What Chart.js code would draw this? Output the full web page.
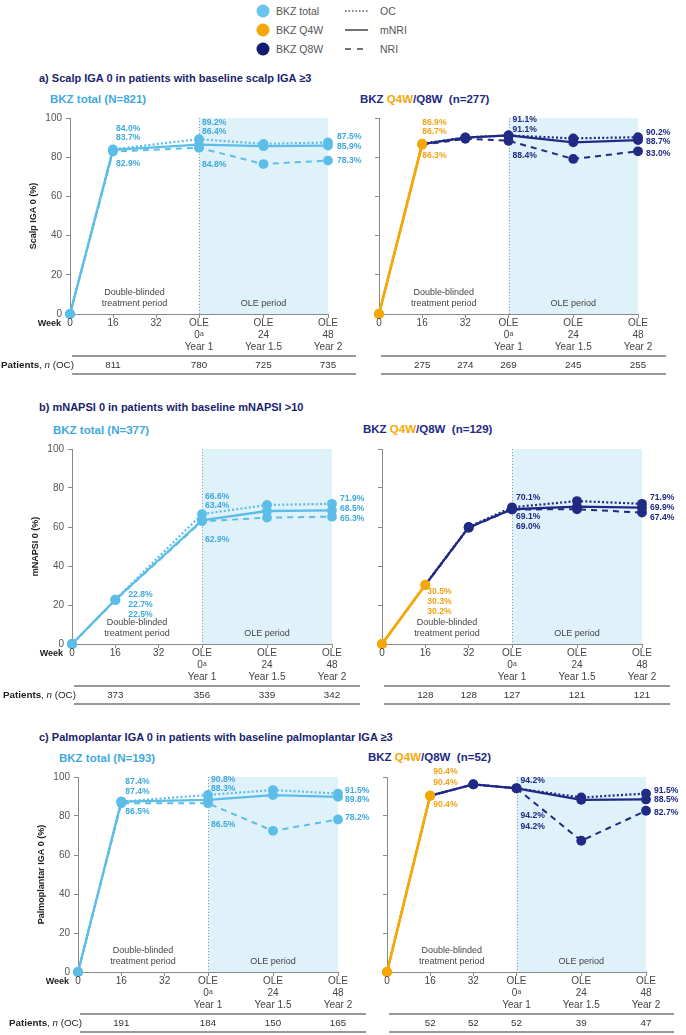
<!DOCTYPE html>
<html><head><meta charset="utf-8">
<script src="https://cdn.jsdelivr.net/npm/chart.js@4"></script>
<style>
body{margin:0;background:#fff;width:686px;height:1035px;position:relative;overflow:hidden;font-family:"Liberation Sans",Arial,sans-serif;}
.abs{position:absolute;white-space:nowrap;line-height:1;}
.title{font-weight:bold;font-size:11px;color:#1b1f6e;transform:translateY(-50%);}
.sub{font-weight:bold;font-size:11.5px;transform:translateY(-50%);}
.lg{font-size:10.5px;color:#555;transform:translateY(-50%);}
canvas{position:absolute;}
</style></head><body>
<svg class="abs" style="left:250px;top:0px" width="130" height="62">
  <circle cx="13" cy="11" r="6.5" fill="#6ac4ec"/>
  <circle cx="13" cy="30" r="6.5" fill="#f5a70a"/>
  <circle cx="13" cy="49" r="6.5" fill="#101b72"/>
  <line x1="95" y1="11" x2="118" y2="11" stroke="#555" stroke-width="1.5" stroke-dasharray="1.5,2"/>
  <line x1="95" y1="30" x2="118" y2="30" stroke="#444" stroke-width="1.5"/>
  <line x1="95" y1="49" x2="118" y2="49" stroke="#444" stroke-width="1.5" stroke-dasharray="6,6"/>
</svg>
<div class="abs lg" style="left:276px;top:11px">BKZ total</div>
<div class="abs lg" style="left:276px;top:30px">BKZ Q4W</div>
<div class="abs lg" style="left:276px;top:49px">BKZ Q8W</div>
<div class="abs lg" style="left:380px;top:11px">OC</div>
<div class="abs lg" style="left:380px;top:30px">mNRI</div>
<div class="abs lg" style="left:380px;top:49px">NRI</div>

<div class="abs title" style="left:39px;top:78px">a) Scalp IGA 0 in patients with baseline scalp IGA ≥3</div>
<div class="abs title" style="left:39px;top:407px">b) mNAPSI 0 in patients with baseline mNAPSI &gt;10</div>
<div class="abs title" style="left:39px;top:737px">c) Palmoplantar IGA 0 in patients with baseline palmoplantar IGA ≥3</div>

<div class="abs sub" style="left:50px;top:100px;color:#3fa9dc">BKZ total (N=821)</div>
<div class="abs sub" style="left:360px;top:100px;color:#1e2a84">BKZ <span style="color:#f5a70a">Q4W</span>/Q8W&nbsp; (n=277)</div>
<div class="abs sub" style="left:53px;top:431px;color:#3fa9dc">BKZ total (N=377)</div>
<div class="abs sub" style="left:363px;top:430px;color:#1e2a84">BKZ <span style="color:#f5a70a">Q4W</span>/Q8W&nbsp; (n=129)</div>
<div class="abs sub" style="left:59px;top:759px;color:#3fa9dc">BKZ total (N=193)</div>
<div class="abs sub" style="left:368px;top:758px;color:#1e2a84">BKZ <span style="color:#f5a70a">Q4W</span>/Q8W&nbsp; (n=52)</div>

<script>
// ---------- DATA ----------
const weeks = [0, 16, 32, 48, 72, 96]; // 48 = OLE 0, 72 = OLE 24, 96 = OLE 48
const xTickLabels = [['0'], ['16'], ['32'], ['OLE', '0ᵃ', 'Year 1'], ['OLE', '24', 'Year 1.5'], ['OLE', '48', 'Year 2']];
const yTicks = [0, 20, 40, 60, 80, 100];

// a) Scalp IGA
const aTotalOC   = [0, 84.0, null, 89.2, 86.8, 87.5];
const aTotalMNRI = [0, 83.7, null, 86.4, 85.6, 85.9];
const aTotalNRI  = [0, 82.9, null, 84.8, 76.5, 78.3];
const aQ4wOC   = [0, 86.9];
const aQ4wMNRI = [0, 86.7];
const aQ4wNRI  = [0, 86.3];
const aQ8wOC   = [null, 86.9, 90.1, 91.1, 89.6, 90.2];
const aQ8wMNRI = [null, 86.7, 90.0, 91.1, 87.6, 88.7];
const aQ8wNRI  = [null, 86.3, 89.4, 88.4, 79.1, 83.0];
const aTotalN = [null, 811, null, 780, 725, 735];
const aDoseN  = [null, 275, 274, 269, 245, 255];

// b) mNAPSI
const bTotalOC   = [0, 22.8, null, 66.6, 71.3, 71.9];
const bTotalMNRI = [0, 22.7, null, 63.4, 68.2, 68.5];
const bTotalNRI  = [0, 22.5, null, 62.9, 64.8, 65.3];
const bQ4wOC   = [0, 30.5];
const bQ4wMNRI = [0, 30.3];
const bQ4wNRI  = [0, 30.2];
const bQ8wOC   = [null, 30.5, 60.0, 70.1, 73.3, 71.9];
const bQ8wMNRI = [null, 30.3, 59.8, 69.1, 70.4, 69.9];
const bQ8wNRI  = [null, 30.2, 59.6, 69.0, 69.1, 67.4];
const bTotalN = [null, 373, null, 356, 339, 342];
const bDoseN  = [null, 128, 128, 127, 121, 121];

// c) Palmoplantar IGA
const cTotalOC   = [0, 87.4, null, 90.8, 93.3, 91.5];
const cTotalMNRI = [0, 87.4, null, 88.3, 90.7, 89.8];
const cTotalNRI  = [0, 86.5, null, 86.5, 72.4, 78.2];
const cQ4wOC   = [0, 90.4];
const cQ4wMNRI = [0, 90.4];
const cQ4wNRI  = [0, 90.4];
const cQ8wOC   = [null, 90.4, 96.2, 94.2, 89.5, 91.5];
const cQ8wMNRI = [null, 90.4, 96.2, 94.2, 88.3, 88.5];
const cQ8wNRI  = [null, 90.4, 96.2, 94.2, 67.3, 82.7];
const cTotalN = [null, 191, null, 184, 150, 165];
const cDoseN  = [null, 52, 52, 52, 39, 47];

// ---------- STYLE ----------
const FONT = '"Liberation Sans", Arial, sans-serif';
const BLUE = '#5cbde8', BLUE_T = '#3fa9dc', ORANGE = '#f5a70a', ORANGE_T = '#f0a318', NAVY = '#1e2a84';
const AX = '#8a8a8a', SHADE = '#dff1f9';
const STY = {
  oc:   {dash: [2, 2.2], w: 2.2},
  mnri: {dash: [], w: 2.3},
  nri:  {dash: [6, 5], w: 2}
};

function pts(arr) {
  const out = [];
  arr.forEach((v, i) => { if (v !== null) out.push({x: weeks[i], y: v}); });
  return out;
}
function ds(arr, color, st, hideFirst) {
  return {
    data: pts(arr), borderColor: color, backgroundColor: color,
    borderWidth: STY[st].w, borderDash: STY[st].dash, tension: 0, clip: false,
    pointRadius: hideFirst ? (c => c.raw && c.raw.x === 16 ? 0 : 4.9) : 4.9,
    pointBorderWidth: 0, pointBackgroundColor: color, pointHoverRadius: 0
  };
}
// label: text taken from series value
function L(arr, i, dx, dy, color) { return {arr, i, dx, dy, color}; }

const panels = [
  {left: true, area: [70, 328, 118, 314], ytitle: 'Scalp IGA 0 (%)', n: aTotalN,
   total: [aTotalOC, aTotalMNRI, aTotalNRI],
   labels: [L(aTotalOC,1,3,-21), L(aTotalMNRI,1,3,-12), L(aTotalNRI,1,3,12.5),
            L(aTotalOC,3,3,-17), L(aTotalMNRI,3,3,-12.7), L(aTotalNRI,3,3,17),
            L(aTotalOC,5,9,-5.5), L(aTotalMNRI,5,9,1.4), L(aTotalNRI,5,9,0.5)]},
  {left: false, area: [379, 638, 118, 314], n: aDoseN,
   q4: [aQ4wOC, aQ4wMNRI, aQ4wNRI], q8: [aQ8wOC, aQ8wMNRI, aQ8wNRI],
   labels: [L(aQ4wOC,1,0,-21,ORANGE_T), L(aQ4wMNRI,1,0,-12,ORANGE_T), L(aQ4wNRI,1,0,11,ORANGE_T),
            L(aQ8wOC,3,4,-16), L(aQ8wMNRI,3,4,-5.4), L(aQ8wNRI,3,4,15),
            L(aQ8wOC,5,8,-4.5), L(aQ8wMNRI,5,8,1.6), L(aQ8wNRI,5,8,2)]},
  {left: true, area: [72, 332, 449, 644], ytitle: 'mNAPSI 0 (%)', n: bTotalN,
   total: [bTotalOC, bTotalMNRI, bTotalNRI],
   labels: [L(bTotalOC,1,13,-4.5), L(bTotalMNRI,1,13,4.6), L(bTotalNRI,1,13,14.2),
            L(bTotalOC,3,3,-18), L(bTotalMNRI,3,3,-14.7), L(bTotalNRI,3,3,18),
            L(bTotalOC,5,8,-5.5), L(bTotalMNRI,5,8,-2), L(bTotalNRI,5,8,1.6)]},
  {left: false, area: [382, 642, 449, 644], n: bDoseN,
   q4: [bQ4wOC, bQ4wMNRI, bQ4wNRI], q8: [bQ8wOC, bQ8wMNRI, bQ8wNRI],
   labels: [L(bQ4wOC,1,2,7,ORANGE_T), L(bQ4wMNRI,1,2,17,ORANGE_T), L(bQ4wNRI,1,2,27,ORANGE_T),
            L(bQ8wOC,3,4,-9.6), L(bQ8wMNRI,3,4,7.4), L(bQ8wNRI,3,4,17.5),
            L(bQ8wOC,5,8,-6.5), L(bQ8wMNRI,5,8,-0.4), L(bQ8wNRI,5,8,4.7)]},
  {left: true, area: [78, 338, 777, 972], ytitle: 'Palmoplantar IGA 0 (%)', n: cTotalN,
   total: [cTotalOC, cTotalMNRI, cTotalNRI],
   labels: [L(cTotalOC,1,4,-20), L(cTotalMNRI,1,4,-10.3), L(cTotalNRI,1,4,8),
            L(cTotalOC,3,3,-15.6), L(cTotalMNRI,3,3,-11.5), L(cTotalNRI,3,3,21),
            L(cTotalOC,5,7,-3), L(cTotalMNRI,5,7,3), L(cTotalNRI,5,7,-2)]},
  {left: false, area: [387, 646, 777, 972], n: cDoseN,
   q4: [cQ4wOC, cQ4wMNRI, cQ4wNRI], q8: [cQ8wOC, cQ8wMNRI, cQ8wNRI],
   labels: [L(cQ4wOC,1,3,-24,ORANGE_T), L(cQ4wMNRI,1,3,-13.4,ORANGE_T), L(cQ4wNRI,1,3,9.3,ORANGE_T),
            L(cQ8wOC,3,4,-7.6), L(cQ8wMNRI,3,4,27.4), L(cQ8wNRI,3,4,38.4),
            L(cQ8wOC,5,8,-3), L(cQ8wMNRI,5,8,0.6), L(cQ8wNRI,5,8,1.6)]}
];

const styles = ['oc', 'mnri', 'nri'];

function buildDatasets(p) {
  if (p.left) return p.total.map((a, k) => ds(a, BLUE, styles[k], false));
  const o = p.q4.map((a, k) => ds(a, ORANGE, 'mnri', false));
  const n = p.q8.map((a, k) => ds(a, NAVY, styles[k], true));
  return o.concat(n);
}

function panelPlugin(p) {
  return {
    id: 'panelDeco',
    beforeDraw(chart) {
      const {ctx, chartArea: a, scales: {x}} = chart;
      ctx.save();
      const x0 = x.getPixelForValue(48), x1 = x.getPixelForValue(96);
      ctx.fillStyle = SHADE;
      ctx.fillRect(x0, a.top, x1 - x0, a.bottom - a.top);
      ctx.strokeStyle = '#9a9a9a'; ctx.lineWidth = 1; ctx.setLineDash([1, 2]);
      ctx.beginPath(); ctx.moveTo(Math.round(x0) + 0.5, a.top); ctx.lineTo(Math.round(x0) + 0.5, a.bottom); ctx.stroke();
      ctx.setLineDash([]);
      ctx.fillStyle = '#444'; ctx.font = '9px ' + FONT; ctx.textAlign = 'center'; ctx.textBaseline = 'middle';
      const xm = x.getPixelForValue(24);
      ctx.fillText('Double-blinded', xm, a.bottom - 21);
      ctx.fillText('treatment period', xm, a.bottom - 10);
      ctx.fillText('OLE period', x.getPixelForValue(72), a.bottom - 10);
      ctx.restore();
    },
    afterDatasetsDraw(chart) {
      const {ctx, scales: {x, y}} = chart;
      ctx.save();
      ctx.font = 'bold 8.6px ' + FONT; ctx.textAlign = 'left'; ctx.textBaseline = 'middle';
      p.labels.forEach(l => {
        const v = l.arr[l.i];
        ctx.fillStyle = l.color || (p.left ? BLUE_T : NAVY);
        ctx.fillText(v.toFixed(1) + '%', x.getPixelForValue(weeks[l.i]) + l.dx, y.getPixelForValue(v) + l.dy);
      });
      ctx.restore();
    },
    afterDraw(chart) {
      const {ctx, chartArea: a, scales: {x}} = chart;
      ctx.save();
      ctx.textBaseline = 'middle';
      // x tick labels
      ctx.fillStyle = '#444'; ctx.font = '10px ' + FONT; ctx.textAlign = 'center';
      weeks.forEach((w, i) => {
        xTickLabels[i].forEach((t, j) => ctx.fillText(t, x.getPixelForValue(w), a.bottom + 9.5 + j * 12));
      });
      if (p.left) {
        ctx.font = 'bold 9px ' + FONT; ctx.textAlign = 'right'; ctx.fillStyle = '#222';
        ctx.fillText('Week', a.left - 9, a.bottom + 9.5);
        // y title
        ctx.save();
        ctx.translate(a.left - 36, (a.top + a.bottom) / 2);
        ctx.rotate(-Math.PI / 2);
        ctx.textAlign = 'center'; ctx.font = 'bold 9px ' + FONT;
        ctx.fillText(p.ytitle, 0, 0);
        ctx.restore();
        // Patients, n (OC)
        let px = a.left - 69; const py = a.bottom + 51;
        ctx.textAlign = 'left';
        const parts = [['bold 9.8px ', 'Patients'], ['9.8px ', ', '], ['italic 9.8px ', 'n'], ['9.8px ', ' (OC)']];
        parts.forEach(([f, t]) => { ctx.font = f + FONT; ctx.fillText(t, px, py); px += ctx.measureText(t).width; });
      }
      // table lines
      ctx.strokeStyle = '#777'; ctx.lineWidth = 1.5;
      [a.bottom + 42, a.bottom + 60].forEach(ly => {
        ctx.beginPath(); ctx.moveTo(a.left + 2, ly); ctx.lineTo(a.right + 28, ly); ctx.stroke();
      });
      ctx.fillStyle = '#333'; ctx.font = '9.8px ' + FONT; ctx.textAlign = 'center';
      p.n.forEach((v, i) => { if (v !== null) ctx.fillText(String(v), x.getPixelForValue(weeks[i]), a.bottom + 51); });
      ctx.restore();
    }
  };
}

function makeChart(p) {
  const [aL, aR, aT, aB] = p.area;
  const padTop = 14, padRight = 42, xh = 66;
  const cLeft = p.left ? 0 : aL - 32;
  const W = aR + padRight - cLeft, H = aB - aT + padTop + xh;
  const cv = document.createElement('canvas');
  cv.width = W; cv.height = H;
  cv.style.left = cLeft + 'px'; cv.style.top = (aT - padTop) + 'px';
  cv.style.width = W + 'px'; cv.style.height = H + 'px';
  document.body.appendChild(cv);
  const gridCfg = {drawOnChartArea: false, drawTicks: true, tickLength: 4, color: AX, lineWidth: 1};
  new Chart(cv, {
    type: 'line',
    data: {datasets: buildDatasets(p)},
    options: {
      responsive: false, animation: false, devicePixelRatio: 1,
      layout: {padding: {left: 0, top: padTop, right: padRight, bottom: 0}},
      plugins: {legend: {display: false}, tooltip: {enabled: false}},
      scales: {
        x: {type: 'linear', min: 0, max: 96,
            afterBuildTicks: s => { s.ticks = weeks.map(v => ({value: v})); },
            ticks: {autoSkip: false, callback: () => ''},
            grid: gridCfg, border: {display: true, color: AX, width: 1},
            afterFit: s => { s.height = xh; }},
        y: {type: 'linear', min: 0, max: 100,
            afterBuildTicks: s => { s.ticks = yTicks.map(v => ({value: v})); },
            ticks: {autoSkip: false, callback: v => p.left ? String(v) : '', color: '#555',
                    font: {size: 10, family: FONT}, padding: 4},
            grid: gridCfg, border: {display: true, color: AX, width: 1},
            afterFit: s => { s.width = aL - cLeft; }}
      }
    },
    plugins: [panelPlugin(p)]
  });
}

panels.forEach(makeChart);
</script>
</body></html>
